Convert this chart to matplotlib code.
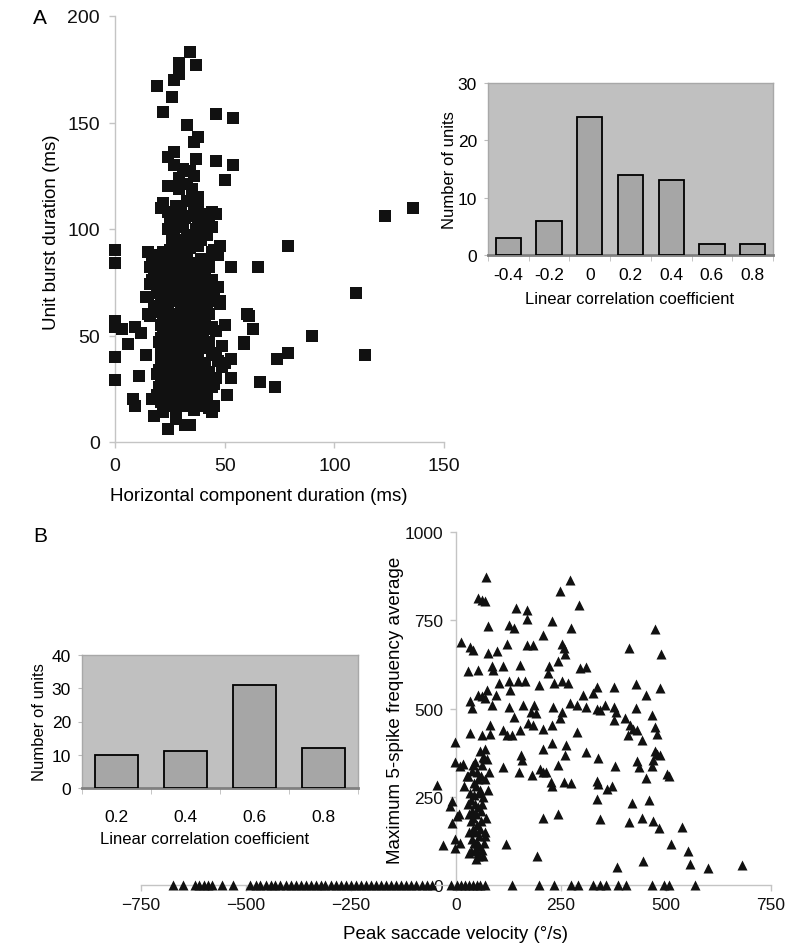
import numpy as np
import matplotlib
matplotlib.use("Agg")
import matplotlib.pyplot as plt

plt.rcParams['font.family'] = ['Liberation Sans', 'DejaVu Sans']

# ---- panel A: unit burst duration vs horizontal component duration ----
a_core = [
    (22,112),(28,111),(33,113),(36,110),(38,112),
    (24,108),(27,107),(30,109),(34,106),(40,107),(44,108),(46,107),
    (25,104),(28,103),(32,105),(38,104),(41,103),(43,105),
    (24,100),(27,99),(31,101),(37,100),(40,99),(44,101),
    (26,96),(29,95),(33,97),(36,96),(39,95),(42,97),
    (28,92),(31,93),(34,91),(38,92),(45,90),(48,92),
    (15,89),(18,88),(22,89),(25,90),(29,88),(33,87),(44,89),(47,88),
    (17,86),(20,85),(24,86),(27,85),(30,86),(35,84),(39,86),(42,85),
    (16,82),(19,83),(22,81),(26,83),(29,82),(32,83),(37,81),(40,83),(43,82),
    (18,80),(21,79),(24,80),(28,78),(31,80),(35,79),(38,80),(41,79),
    (17,76),(20,77),(23,75),(27,77),(30,76),(34,77),(39,75),(44,76),
    (16,74),(21,73),(25,74),(29,72),(33,74),(37,73),(42,74),(45,72),
    (19,70),(23,71),(26,69),(31,71),(35,70),(40,71),(43,69),
    (15,68),(22,67),(25,68),(28,66),(32,68),(36,67),(41,68),(44,66),
    (18,64),(21,65),(24,63),(30,65),(34,64),(38,65),(42,63),(48,65),
    (19,61),(23,62),(27,60),(31,62),(35,61),(39,62),(43,60),
    (16,59),(22,58),(25,59),(29,57),(33,59),(37,58),(41,59),
    (21,55),(24,56),(28,54),(32,56),(36,55),(40,56),(44,54),
    (22,52),(26,53),(30,51),(34,53),(38,52),(42,53),(46,52),
    (21,49),(25,50),(28,48),(32,50),(36,49),(40,50),
    (20,47),(23,46),(27,47),(31,45),(35,47),(39,46),(43,47),
    (21,43),(25,44),(29,42),(33,44),(37,43),(42,44),(46,42),
    (22,40),(26,41),(30,39),(34,41),(38,40),(44,41),
    (21,38),(24,37),(28,38),(32,36),(36,38),(41,37),(47,38),(50,37),
    (20,34),(23,35),(27,33),(31,35),(35,34),(39,35),(43,33),(49,35),
    (19,32),(22,31),(26,32),(30,30),(34,32),(38,31),(42,32),(46,30),
    (21,28),(25,29),(29,27),(33,29),(37,28),(41,29),(45,27),
    (20,26),(24,25),(28,26),(32,24),(36,26),(40,25),(44,26),
    (19,22),(22,23),(26,21),(30,23),(34,22),(38,23),(42,21),
    (17,20),(21,19),(25,20),(29,18),(33,20),(37,19),(41,20),
    (23,17),(28,16),(32,17),(36,15),(39,17),(43,16),
]
a_outer = [
    (34,183),(29,178),(37,177),(29,173),(27,170),(19,167),(26,162),(22,155),
    (46,154),(54,152),(33,149),(38,143),(36,141),(24,134),(27,136),(37,133),
    (46,132),(54,130),(27,130),(31,128),(34,127),(36,125),(29,124),(33,121),
    (50,123),(24,120),(29,119),(35,119),(38,115),(21,110),(123,106),(136,110),
    (79,92),(53,82),(65,82),(110,70),(90,50),(114,41),(79,42),(74,39),(66,28),
    (73,26),(60,60),(63,53),(59,47),(59,46),(0,90),(0,84),(0,57),(0,54),(3,53),
    (0,40),(0,29),(6,46),(9,54),(12,51),(14,41),(11,31),(8,20),(9,17),(18,12),
    (22,14),(24,6),(28,11),(32,8),(34,8),(44,14),(45,17),(51,22),(53,30),
    (53,39),(49,45),(50,55),(48,66),(47,73),(61,59),(14,68),(15,60),
]

a_hist_labels = ['-0.4', '-0.2', '0', '0.2', '0.4', '0.6', '0.8']
a_hist_counts = [3, 6, 24, 14, 13, 2, 2]

# ---- panel B: max 5-spike frequency vs peak saccade velocity ----
b_points = [
    (71,872),(271,863),(248,832),(53,813),(61,806),(69,804),(294,792),(142,784),
    (168,779),(170,753),(228,748),(75,734),(127,736),(138,729),(274,729),(474,724),
    (206,707),(13,688),(33,674),(40,667),(121,682),(168,680),(184,680),(252,682),
    (256,672),(260,653),(413,670),(487,653),(97,663),(75,658),(29,605),(53,608),
    (85,620),(89,610),(113,620),(152,624),(221,620),(244,634),(295,615),(310,617),
    (102,572),(127,577),(148,577),(164,577),(198,567),(233,572),(252,577),(267,572),
    (220,600),(129,553),(336,562),(377,560),(428,569),(486,558),(453,537),(73,553),
    (69,530),(53,539),(63,534),(95,539),(33,520),(37,502),(85,510),(160,510),
    (179,491),(191,486),(186,510),(125,505),(137,477),(232,505),(252,491),(248,472),
    (271,515),(287,510),(303,537),(309,505),(327,543),(335,500),(343,496),(355,510),
    (376,505),(381,491),(376,467),(402,472),(414,453),(422,443),(410,424),(430,438),
    (428,502),(442,410),(466,481),(474,448),(478,429),(171,458),(183,453),(113,439),
    (121,424),(133,424),(152,439),(81,453),(33,431),(61,424),(81,429),(228,453),
    (208,443),(287,434),(154,367),(156,353),(69,386),(65,363),(73,358),(-2,405),
    (-2,348),(10,338),(17,343),(29,310),(37,324),(45,348),(113,334),(150,319),
    (180,313),(200,329),(214,319),(206,386),(229,403),(263,396),(260,367),(244,340),
    (310,377),(339,359),(379,337),(258,291),(273,288),(226,291),(228,281),(208,321),
    (335,296),(337,286),(432,351),(436,334),(452,302),(466,338),(470,353),(474,381),
    (478,372),(486,367),(502,315),(506,310),(372,281),(360,272),(336,243),(418,231),
    (460,241),(343,188),(206,191),(244,202),(413,178),(442,189),(468,181),(484,162),
    (539,164),(513,117),(552,95),(558,60),(600,48),(681,57),(446,67),(383,52),
    (192,83),(118,117),(-46,283),(-30,114),(-14,224),(-10,238),(6,200),(3,195),
    (-10,176),(-2,129),(-2,105),(10,119),(32,91),(53,83),(65,83),
    (45,100),(50,120),(55,140),(40,160),(60,180),(48,200),(52,220),(35,240),
    (65,250),(58,270),(42,290),(70,300),(50,320),(62,340),(45,150),(55,110),
    (38,130),(68,150),(50,170),(40,190),(60,210),(45,230),(55,260),(48,280),
    (63,230),(38,210),(72,190),(57,160),(43,120),(67,120),(35,180),(52,90),
    (30,200),(33,260),(25,310),(20,280),(75,270),(78,320),(66,360),(58,380),
    (40,340),(30,150),(62,100),(48,75),(36,95),(70,140),(28,230),(53,300),
    (44,255),(60,310),
]
# units with zero frequency sit on the velocity axis
b_zero_x = [
    -674, -650, -622, -611, -601, -590, -580, -558, -532,
    -490, -477, -466, -453, -441, -430, -419, -405, -394, -381, -370, -357,
    -346, -333, -322, -311, -298, -286, -275, -262, -250, -239, -226, -214,
    -203, -190, -178, -167, -154, -142, -131, -118, -106, -95, -82, -70, -57,
    -12, 2, 12, 21, 31, 40, 49, 58, 68,
    134, 198, 234, 274, 290, 327, 342, 358, 385, 405, 466, 495, 506, 569,
]

b_hist_labels = ['0.2', '0.4', '0.6', '0.8']
b_hist_counts = [10, 11, 31, 12]

W, H = 800, 953
fig = plt.figure(figsize=(W / 100, H / 100), dpi=100)


def px_axes(l, t, r, b, **kw):
    return fig.add_axes([l / W, 1 - b / H, (r - l) / W, (b - t) / H], **kw)


def px_text(x, y, s, **kw):
    fig.text(x / W, 1 - y / H, s, ha='center', va='center', **kw)


AXC = '#c4c4c4'


def light_axes(ax):
    for side in ('top', 'right'):
        ax.spines[side].set_visible(False)
    for side in ('left', 'bottom'):
        ax.spines[side].set_color(AXC)
        ax.spines[side].set_linewidth(1.0)
    ax.tick_params(colors=AXC, labelcolor='#111111', length=4, width=1)
    ax.patch.set_alpha(0)


def inset_hist(ax, labels, counts, ymax, ystep, xpad):
    pos = np.arange(len(labels))
    ax.set_facecolor('#c0c0c0')
    ax.bar(pos, counts, width=0.62, color='#a6a6a6', edgecolor='black', linewidth=1.3, zorder=3)
    ax.set_xlim(-0.5, len(labels) - 0.5)
    ax.set_ylim(0, ymax)
    ax.set_xticks(pos)
    ax.set_xticklabels(labels)
    ax.set_xticks(np.arange(len(labels) + 1) - 0.5, minor=True)
    ax.set_yticks(np.arange(0, ymax + 1, ystep))
    ax.tick_params(axis='x', which='major', length=0, pad=xpad, labelsize=12.5)
    ax.tick_params(axis='x', which='minor', length=4, color='#bbbbbb')
    ax.tick_params(axis='y', length=3, color='#bbbbbb', pad=5, labelsize=12.5)
    for side in ('top', 'right', 'left'):
        ax.spines[side].set_color('#a8a8a8')
        ax.spines[side].set_linewidth(1.0)
    ax.spines['bottom'].set_color('#808080')
    ax.spines['bottom'].set_linewidth(2.0)


# panel A main scatter
ax_a = px_axes(115, 17, 444, 443)
pa = np.array(a_core + a_outer, dtype=float)
ax_a.scatter(pa[:, 0], pa[:, 1], marker='s', s=64, color='#111111', linewidths=0, clip_on=False, zorder=3)
ax_a.set_xlim(0, 150)
ax_a.set_ylim(0, 200)
ax_a.set_xticks([0, 50, 100, 150])
ax_a.set_yticks([0, 50, 100, 150, 200])
light_axes(ax_a)
ax_a.tick_params(labelsize=14, pad=7)

# panel A inset
ax_ai = px_axes(488, 84, 773, 256)
inset_hist(ax_ai, a_hist_labels, a_hist_counts, 30, 10, 9)

# panel B main scatter
ax_b = px_axes(141, 533, 771, 886)
pb = np.array(b_points, dtype=float)
ax_b.scatter(pb[:, 0], pb[:, 1], marker='^', s=52, color='#111111', linewidths=0, clip_on=False, zorder=3)
bz = np.array(b_zero_x, dtype=float)
ax_b.scatter(bz, np.zeros_like(bz), marker='^', s=52, color='#111111', linewidths=0, clip_on=False, zorder=3)
ax_b.set_xlim(-750, 750)
ax_b.set_ylim(0, 1000)
ax_b.set_xticks([-750, -500, -250, 0, 250, 500, 750])
ax_b.set_yticks([0, 250, 500, 750, 1000])
light_axes(ax_b)
ax_b.spines['left'].set_position(('data', 0))
ax_b.spines['bottom'].set_position(('data', 0))
ax_b.tick_params(labelsize=12.5, pad=5)

# panel B inset
ax_bi = px_axes(82, 656, 358, 789, zorder=5)
inset_hist(ax_bi, b_hist_labels, b_hist_counts, 40, 10, 15)

# labels
px_text(40, 19, 'A', fontsize=15)
px_text(40, 537, 'B', fontsize=15)
px_text(52, 232, 'Unit burst duration (ms)', fontsize=13.5, rotation=90)
px_text(259, 497, 'Horizontal component duration (ms)', fontsize=13.5)
px_text(449, 170, 'Number of units', fontsize=12, rotation=90)
px_text(630, 300, 'Linear correlation coefficient', fontsize=12)
px_text(40, 722, 'Number of units', fontsize=12, rotation=90)
px_text(205, 840, 'Linear correlation coefficient', fontsize=12)
px_text(395, 710, 'Maximum 5-spike frequency average', fontsize=13.5, rotation=90)
px_text(456, 935, 'Peak saccade velocity (°/s)', fontsize=13.5)

fig.savefig('out.png', dpi=100)
